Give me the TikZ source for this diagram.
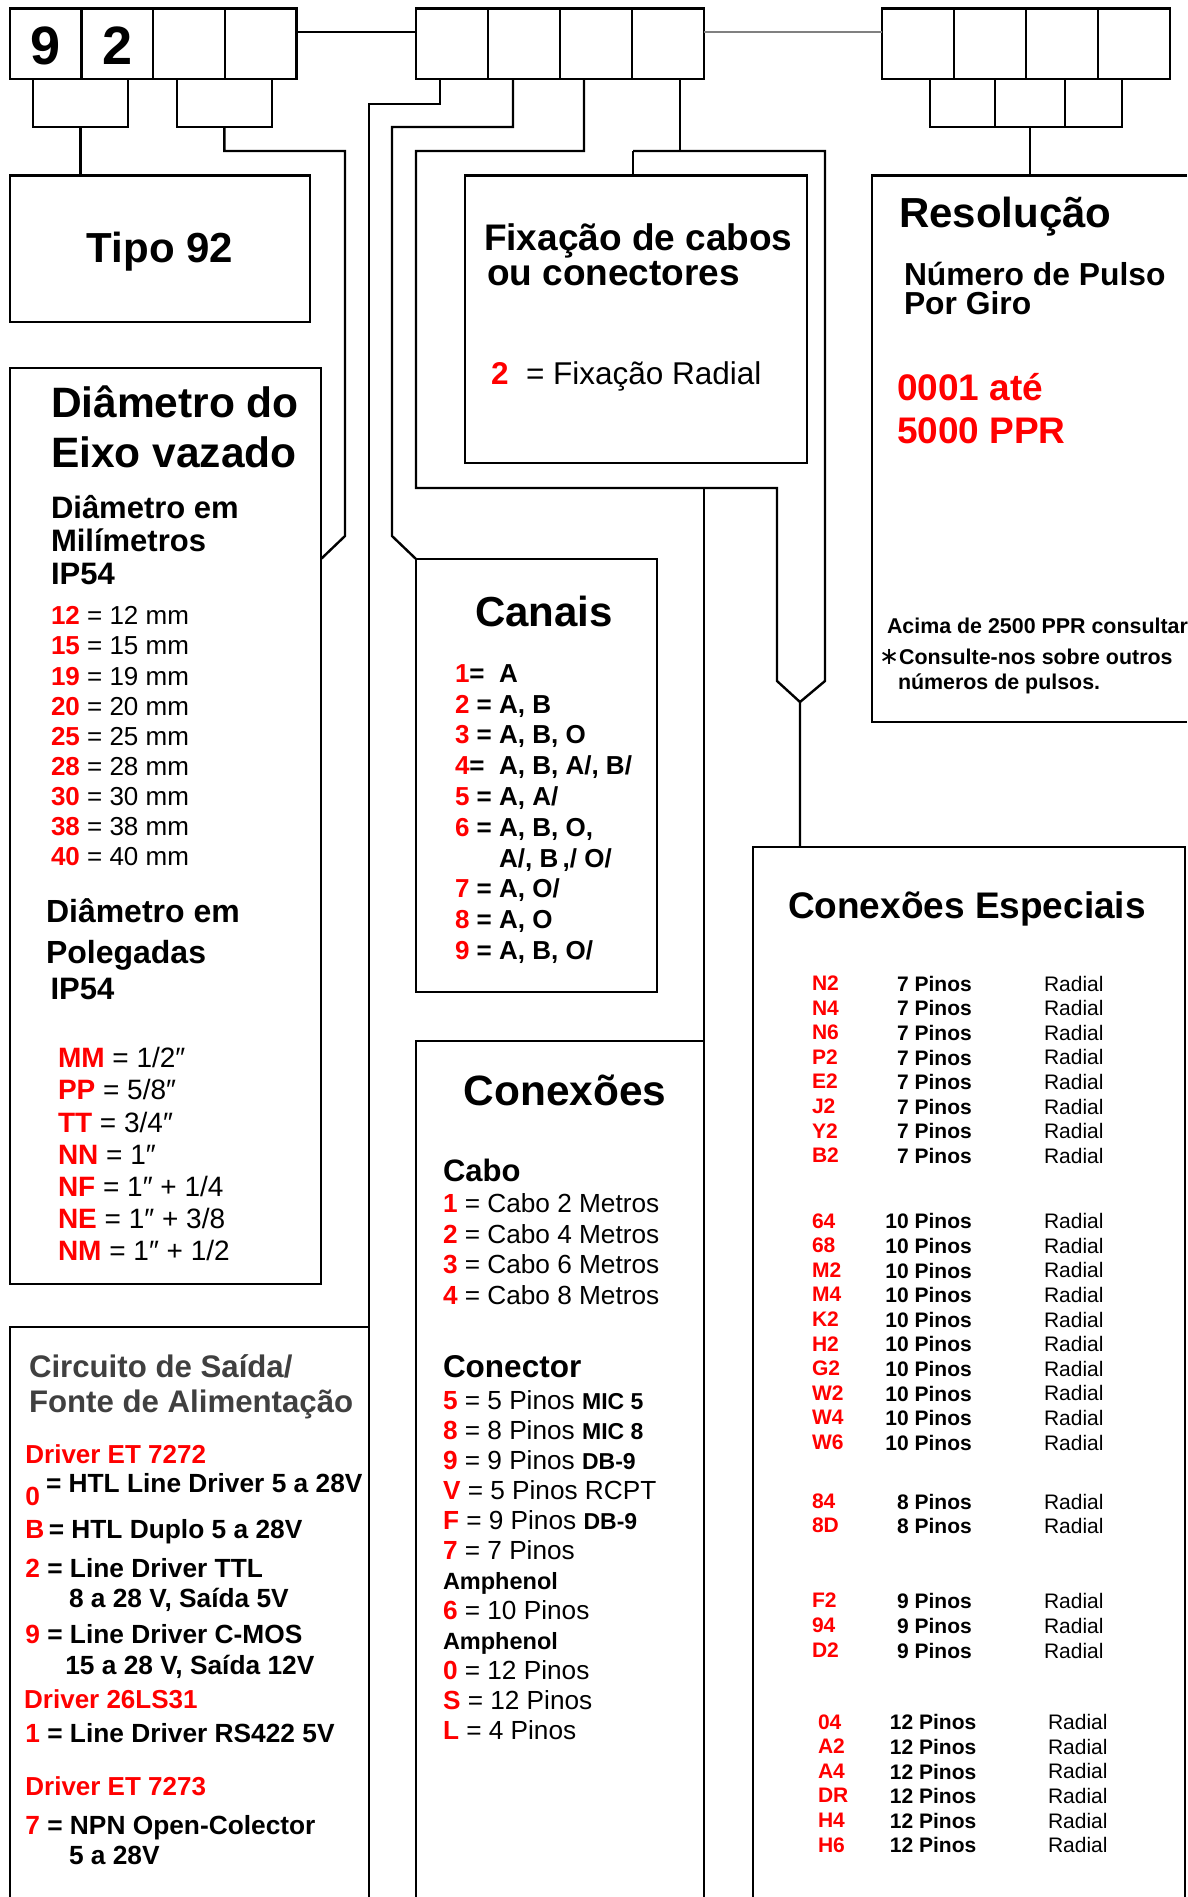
\documentclass[tikz,border=0pt]{standalone}
\usepackage{fontspec}
\setmainfont{Liberation Sans}
\newfontfamily\symfont{DejaVu Sans}
\usepackage{xcolor}
\usetikzlibrary{calc}
\definecolor{codered}{RGB}{255,0,0}
\definecolor{titlegray}{RGB}{64,64,64}
\newcommand\rd[1]{\textcolor{codered}{\textbf{#1}}}
\newcommand\fsz[2]{\fontsize{#1}{#2}\selectfont}

\begin{document}
\begin{tikzpicture}[x=1pt, y=-1pt,
    wire/.style={line width=2.4pt, line join=miter},
    cellbox/.style={draw, line width=2.4pt, inner sep=0pt, outer sep=0pt, minimum width=71.7pt, minimum height=70.5pt},
    framebox/.style={draw, line width=2.4pt, inner sep=0pt, outer sep=0pt, anchor=north west},
    textline/.style={inner sep=0pt, outer sep=0pt, anchor=base west},
    listtext/.style={inner sep=0pt, outer sep=0pt, anchor=north west, align=left}]
    \useasboundingbox (0,0) rectangle (1187,1897);
    %\draw [step=100] (0,0) grid (1187,1897);

    % code cells
    \node[cellbox, text height=41.5pt, font={\bfseries\fsz{54}{60}}] (a1) at (45.55,43.75) {9};
    \node[cellbox, text height=41.5pt, font={\bfseries\fsz{54}{60}}] (a2) at (117.25,43.75) {2};
    \node[cellbox] (a3) at (188.95,43.75) {};
    \node[cellbox] (a4) at (260.65,43.75) {};
    \node[cellbox, minimum width=72pt] (m1) at (452,43.75) {};
    \node[cellbox, minimum width=72pt] (m2) at (524,43.75) {};
    \node[cellbox, minimum width=72pt] (m3) at (596,43.75) {};
    \node[cellbox, minimum width=72pt] (m4) at (668,43.75) {};
    \node[cellbox, minimum width=72pt] (r1) at (918,43.75) {};
    \node[cellbox, minimum width=72pt] (r2) at (990,43.75) {};
    \node[cellbox, minimum width=72pt] (r3) at (1062,43.75) {};
    \node[cellbox, minimum width=72pt] (r4) at (1134,43.75) {};
    \node[cellbox, minimum width=95.3pt, minimum height=48pt] (b1) at (80.35,103) {};
    \node[cellbox, minimum width=95.3pt, minimum height=48pt] (b2) at (224.35,103) {};
    \node[cellbox, minimum width=65pt, minimum height=48pt] (s1) at (962.5,103) {};
    \node[cellbox, minimum width=70pt, minimum height=48pt] (s2) at (1030,103) {};
    \node[cellbox, minimum width=57pt, minimum height=48pt] (s3) at (1093.5,103) {};

    % boxes
    \node[framebox, minimum width=300.3pt, minimum height=146.5pt] (tipo) at (9.7,175.5) {};
    \node[framebox, minimum width=311.3pt, minimum height=916pt] (diam) at (9.7,368) {};
    \node[framebox, minimum width=342pt, minimum height=287.5pt] (fixa) at (465,175.5) {};
    \node[framebox, minimum width=241pt, minimum height=433pt] (canais) at (416,559) {};
    \draw[wire] (1187,175.5) -- (872,175.5) -- (872,722) -- (1187,722);
    \draw[wire] (9.7,1897) -- (9.7,1327) -- (369,1327);
    \draw[wire] (416,1897) -- (416,1041) -- (704,1041);
    \draw[wire] (753,1897) -- (753,847) -- (1185,847) -- (1185,1897);

    % connectors
    \draw[wire] (a4.east |- 0,32) -- (m1.west |- 0,32);
    \draw[line width=1.3pt, gray] (m4.east |- 0,32) -- (r1.west |- 0,32);
    \draw[wire] (b1.south) -- (b1.south |- tipo.north);
    \draw[wire] (b2.south) |- (345,151) -- (345,536) -- (diam.north east |- 0,559);
    \draw[wire] (m1.south -| 440,0) |- (369,104) -- (369,1897);
    \draw[wire] (m2.south -| 513,0) |- (392,127) -- (392,536) -- (canais.north west);
    \draw[wire] (m3.south -| 584,0) |- (416,151) -- (416,488) -| (777,681) -- (800,702);
    \draw[wire] (704,488) -- (704,1897);
    \draw[wire] (m4.south -| 680,0) -- (680,151);
    \draw[wire] (633,151) -- (825,151) -- (825,681) -- (800,702) -- (800,847);
    \draw[wire] (633,151) -- (fixa.north west -| 633,0);
    \draw[wire] (s2.south) -- (s2.south |- 0,175.5);

    % Tipo
    \node[inner sep=0pt, anchor=base, font={\bfseries\fsz{42}{48}}] (tipotxt) at (160,262) {Tipo 92};

    % Diametro
    \node[listtext, font={\bfseries\fsz{42.5}{49.5}}] (diamtit) at (51,386) {Diâmetro do\\Eixo vazado};
    \node[listtext, font={\bfseries\fsz{31}{33}}] (diammm) at (51,495) {Diâmetro em\\Milímetros\\IP54};
    \node[listtext, font={\fsz{26}{30.1}}] (mmlist) at (51,606.7) {\rd{12} = 12 mm\\\rd{15} = 15 mm\\\rd{19} = 19 mm\\\rd{20} = 20 mm\\\rd{25} = 25 mm\\\rd{28} = 28 mm\\\rd{30} = 30 mm\\\rd{38} = 38 mm\\\rd{40} = 40 mm};
    \node[listtext, font={\bfseries\fsz{32}{41}}] (diampol) at (46,898.5) {Diâmetro em\\Polegadas};
    \node[textline, font={\bfseries\fsz{31}{33}}] (ip54b) at (50.6,999.5) {IP54};
    \node[listtext, font={\fsz{28}{32.1}}] (inlist) at (58,1047.5) {\rd{MM} = 1/2″\\\rd{PP} = 5/8″\\\rd{TT} = 3/4″\\\rd{NN} = 1″\\\rd{NF} = 1″ + 1/4\\\rd{NE} = 1″ + 3/8\\\rd{NM} = 1″ + 1/2};

    % Fixacao
    \node[listtext, font={\bfseries\fsz{37}{35}}] (fixtit) at (484,223.5) {Fixação de cabos\\\hspace{3pt}ou conectores};
    \node[textline, font={\fsz{31.5}{36}}] (fixrad) at (491,384.5) {\rd{2}\ \ = Fixação Radial};

    % Canais
    \node[inner sep=0pt, anchor=base, font={\bfseries\fsz{42}{48}}] (canaistit) at (544,626) {Canais};
    \node[listtext, font={\bfseries\fsz{26}{30.8}}] (canlist) at (455,664.5) {\rd{1}=\ \ A\\\rd{2} = A, B\\\rd{3} = A, B, O\\\rd{4}=\ \ A, B, A/, B/\\\rd{5} = A, A/\\\rd{6} = A, B, O,\\\phantom{\rd{6} = }A/, B\,,/ O/\\\rd{7} = A, O/\\\rd{8} = A, O\\\rd{9} = A, B, O/};

    % Resolucao
    \node[textline, font={\bfseries\fsz{42}{48}}] (restit) at (899,227.7) {Resolução};
    \node[listtext, font={\bfseries\fsz{31.8}{29}}] (respul) at (904,262) {Número de Pulso\\Por Giro};
    \node[listtext, text=codered, font={\bfseries\fsz{37}{42.5}}] (resppr) at (897,373.5) {0001 até\\5000 PPR};
    \node[textline, font={\bfseries\fsz{21.4}{24}}] (resacima) at (887,633) {Acima de 2500 PPR consultar};
    \node[textline, font={\bfseries\fsz{21.4}{24}}] (rescons) at (879,664) {{\symfont\mdseries\fsz{24}{24}∗}Consulte-nos sobre outros};
    \node[textline, font={\bfseries\fsz{21.4}{24}}] (resnum) at (898,689) {números de pulsos.};

    % Conexoes
    \node[inner sep=0pt, anchor=base, font={\bfseries\fsz{42.4}{48}}] (contit) at (565,1105.7) {Conexões};
    \node[textline, font={\bfseries\fsz{31}{36}}] (cabotit) at (443,1181) {Cabo};
    \node[listtext, font={\fsz{26.2}{30.6}}] (cabolist) at (443,1193.6) {\rd{1} = Cabo 2 Metros\\\rd{2} = Cabo 4 Metros\\\rd{3} = Cabo 6 Metros\\\rd{4} = Cabo 8 Metros};
    \node[textline, font={\bfseries\fsz{31.5}{36}}] (conectit) at (443,1377) {Conector};
    \node[listtext, font={\fsz{26.2}{30}}] (conlist) at (443,1390.7) {\rd{5} = 5 Pinos {\bfseries\fsz{23}{30}MIC 5}\\\rd{8} = 8 Pinos {\bfseries\fsz{23}{30}MIC 8}\\\rd{9} = 9 Pinos {\bfseries\fsz{23}{30}DB-9}\\\rd{V} = 5 Pinos RCPT\\\rd{F} = 9 Pinos {\bfseries\fsz{23}{30}DB-9}\\\rd{7} = 7 Pinos\\{\bfseries\fsz{23.5}{30}Amphenol}\\\rd{6} = 10 Pinos\\{\bfseries\fsz{23.5}{30}Amphenol}\\\rd{0} = 12 Pinos\\\rd{S} = 12 Pinos\\\rd{L} = 4 Pinos};

    % Circuito de saida
    \node[listtext, text=titlegray, font={\bfseries\fsz{31.2}{35}}] (circtit) at (29,1354.5) {Circuito de Saída/\\Fonte de Alimentação};
    \node[textline, font={\bfseries\fsz{26}{30}}] (drv72) at (25.4,1463.5) {\rd{Driver ET 7272}};
    \node[textline, font={\bfseries\fsz{26.3}{30}}] (drv0num) at (25.4,1505) {\rd{0}};
    \node[textline, font={\bfseries\fsz{26.3}{30}}] (drv0) at (46,1492.6) {= HTL Line Driver 5 a 28V};
    \node[textline, font={\bfseries\fsz{26.3}{30}}] (drvb) at (25.4,1538.5) {\rd{B}\,= HTL Duplo 5 a 28V};
    \node[textline, font={\bfseries\fsz{26.3}{30}}] (drv2) at (25.4,1577) {\rd{2} = Line Driver TTL};
    \node[textline, font={\bfseries\fsz{26.3}{30}}] (drv2b) at (69,1607.5) {8 a 28 V, Saída 5V};
    \node[textline, font={\bfseries\fsz{26.3}{30}}] (drv9) at (25.4,1643.8) {\rd{9} = Line Driver C-MOS};
    \node[textline, font={\bfseries\fsz{26.3}{30}}] (drv9b) at (65.3,1674) {15 a 28 V, Saída 12V};
    \node[textline, font={\bfseries\fsz{26}{30}}] (drv26) at (24.2,1708) {\rd{Driver 26LS31}};
    \node[textline, font={\bfseries\fsz{26.3}{30}}] (drv1) at (25.4,1742) {\rd{1} = Line Driver RS422 5V};
    \node[textline, font={\bfseries\fsz{26}{30}}] (drv73) at (25.4,1795) {\rd{Driver ET 7273}};
    \node[textline, font={\bfseries\fsz{26.3}{30}}] (drv7) at (25.4,1834) {\rd{7} = NPN Open-Colector};
    \node[textline, font={\bfseries\fsz{26.3}{30}}] (drv7b) at (69,1864) {5 a 28V};

    % Conexoes especiais
    \node[textline, font={\bfseries\fsz{37}{44}}] (esptit) at (788,918) {Conexões Especiais};
    \node[listtext, text=codered, font={\bfseries\fsz{21}{24.56}}] (g1code) at (812,976) {N2\\N4\\N6\\P2\\E2\\J2\\Y2\\B2};
    \node[inner sep=0pt, anchor=north east, align=right, font={\bfseries\fsz{21}{24.56}}] (g1pin) at (972,976) {7 Pinos\\7 Pinos\\7 Pinos\\7 Pinos\\7 Pinos\\7 Pinos\\7 Pinos\\7 Pinos};
    \node[listtext, font={\fsz{21}{24.56}}] (g1rad) at (1044,976) {Radial\\Radial\\Radial\\Radial\\Radial\\Radial\\Radial\\Radial};
    \node[listtext, text=codered, font={\bfseries\fsz{21}{24.6}}] (g2code) at (812,1213.5) {64\\68\\M2\\M4\\K2\\H2\\G2\\W2\\W4\\W6};
    \node[inner sep=0pt, anchor=north east, align=right, font={\bfseries\fsz{21}{24.6}}] (g2pin) at (972,1213.5) {10 Pinos\\10 Pinos\\10 Pinos\\10 Pinos\\10 Pinos\\10 Pinos\\10 Pinos\\10 Pinos\\10 Pinos\\10 Pinos};
    \node[listtext, font={\fsz{21}{24.6}}] (g2rad) at (1044,1213.5) {Radial\\Radial\\Radial\\Radial\\Radial\\Radial\\Radial\\Radial\\Radial\\Radial};
    \node[listtext, text=codered, font={\bfseries\fsz{21}{24.2}}] (g3code) at (812,1494) {84\\8D};
    \node[inner sep=0pt, anchor=north east, align=right, font={\bfseries\fsz{21}{24.2}}] (g3pin) at (972,1494) {8 Pinos\\8 Pinos};
    \node[listtext, font={\fsz{21}{24.2}}] (g3rad) at (1044,1494) {Radial\\Radial};
    \node[listtext, text=codered, font={\bfseries\fsz{21}{24.8}}] (g4code) at (812,1593.3) {F2\\94\\D2};
    \node[inner sep=0pt, anchor=north east, align=right, font={\bfseries\fsz{21}{24.8}}] (g4pin) at (972,1593.3) {9 Pinos\\9 Pinos\\9 Pinos};
    \node[listtext, font={\fsz{21}{24.8}}] (g4rad) at (1044,1593.3) {Radial\\Radial\\Radial};
    \node[listtext, text=codered, font={\bfseries\fsz{21}{24.6}}] (g5code) at (818,1714.5) {04\\A2\\A4\\DR\\H4\\H6};
    \node[inner sep=0pt, anchor=north east, align=right, font={\bfseries\fsz{21}{24.6}}] (g5pin) at (976.5,1714.5) {12 Pinos\\12 Pinos\\12 Pinos\\12 Pinos\\12 Pinos\\12 Pinos};
    \node[listtext, font={\fsz{21}{24.6}}] (g5rad) at (1048,1714.5) {Radial\\Radial\\Radial\\Radial\\Radial\\Radial};
\end{tikzpicture}
\end{document}
